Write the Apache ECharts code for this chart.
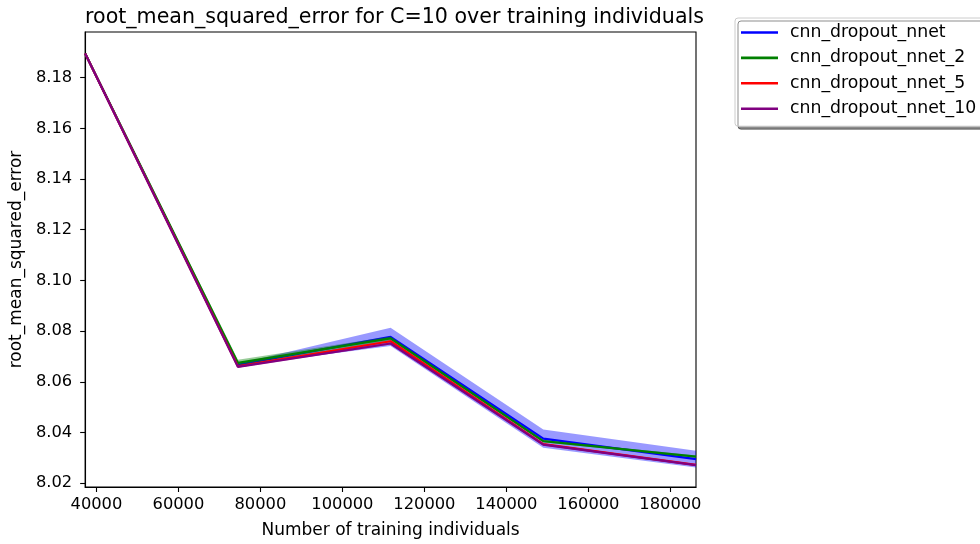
<!DOCTYPE html>
<html>
<head>
<meta charset="utf-8">
<script src="https://cdn.jsdelivr.net/npm/echarts@6/dist/echarts.min.js"></script>
<style>html,body{margin:0;padding:0;background:#fff}#c{width:980px;height:544px}</style>
</head>
<body>
<div id="c"></div>
<script>
const xValues = [37250, 74500, 111750, 149000, 186250];
const seriesNames = ['cnn_dropout_nnet', 'cnn_dropout_nnet_2', 'cnn_dropout_nnet_5', 'cnn_dropout_nnet_10'];
const blueMean   = [8.1895, 8.0667, 8.0777, 8.0376, 8.0295];
const greenMean  = [8.1895, 8.0675, 8.0771, 8.0366, 8.0305];
const redMean    = [8.1895, 8.0661, 8.0760, 8.0354, 8.0272];
const purpleMean = [8.1895, 8.0659, 8.0751, 8.0352, 8.0271];
const blueSpread   = [0.0002, 0.0004, 0.0036, 0.0036, 0.0033];
const greenSpread  = [0.0002, 0.0012, 0.0008, 0.0004, 0.0004];
const redSpread    = [0.0002, 0.0004, 0.0004, 0.0004, 0.0003];
const purpleSpread = [0.0002, 0.0004, 0.0004, 0.0004, 0.0003];
const yTicks = [8.02, 8.04, 8.06, 8.08, 8.10, 8.12, 8.14, 8.16, 8.18];
const xTicks = [40000, 60000, 80000, 100000, 120000, 140000, 160000, 180000];

const means = [blueMean, greenMean, redMean, purpleMean];
const spreads = [blueSpread, greenSpread, redSpread, purpleSpread];
const colors = ['#0000ff', '#008000', '#ff0000', '#800080'];
const bandColors = ['rgba(0,0,255,0.4)', 'rgba(0,128,0,0.4)', 'rgba(255,0,0,0.4)', 'rgba(128,0,128,0.4)'];
const FONT = 'DejaVu Sans';

const series = [];
means.forEach((m, i) => {
  const s = spreads[i];
  const upper = xValues.map((x, k) => [x, m[k] + s[k]]);
  const lower = xValues.map((x, k) => [x, m[k] - s[k]]);
  series.push({
    type: 'custom', name: 'band_' + i, silent: true, z: 1 + i * 2,
    data: [[xValues[0], m[0]]],
    clip: true,
    renderItem: function (params, api) {
      const pts = upper.map(p => api.coord(p)).concat(lower.slice().reverse().map(p => api.coord(p)));
      return {
        type: 'polygon',
        shape: { points: pts },
        style: { fill: bandColors[i], stroke: null }
      };
    }
  });
});
means.forEach((m, i) => {
  series.push({
    type: 'line', name: seriesNames[i],
    data: xValues.map((x, k) => [x, m[k]]),
    symbol: 'none', color: colors[i],
    lineStyle: { color: colors[i], width: 2.2 }, z: 2 + i * 2
  });
});

const chart = echarts.init(document.getElementById('c'), null, { renderer: 'canvas' });
chart.setOption({
  animation: false,
  backgroundColor: '#fff',
  title: {
    text: 'root_mean_squared_error for C=10 over training individuals',
    left: 389.5, top: 2, textAlign: 'center',
    textStyle: { fontFamily: FONT, fontSize: 20.6, fontWeight: 'normal', color: '#000' }
  },
  grid: { left: 83, right: 284, top: 32, bottom: 55, show: true, borderColor: '#000', borderWidth: 1.1, backgroundColor: 'transparent', containLabel: false },
  legend: {
    data: seriesNames.map((n, i) => ({ name: n, icon: 'rect', itemStyle: { color: colors[i] } })),
    orient: 'vertical', left: 735, top: 18,
    itemWidth: 37, itemHeight: 2.6, itemGap: 8.4,
    padding: [6, 8, 9, 6],
    backgroundColor: '#fff', borderColor: '#cccccc', borderWidth: 1, borderRadius: 3,
    shadowColor: 'rgba(0,0,0,0.45)', shadowOffsetX: 3, shadowOffsetY: 3, shadowBlur: 0,
    textStyle: { fontFamily: FONT, fontSize: 17.3, color: '#000', padding: [0, 0, 0, 7] }
  },
  xAxis: {
    type: 'value', min: 37250, max: 186250,
    name: 'Number of training individuals', nameLocation: 'middle', nameGap: 35,
    nameTextStyle: { fontFamily: FONT, fontSize: 17, color: '#000' },
    splitLine: { show: false },
    axisLine: { show: true, onZero: false, lineStyle: { color: '#000', width: 1.1 } },
    axisTick: { show: true, inside: false, length: 5, lineStyle: { color: '#000', width: 1.1 }, customValues: xTicks },
    axisLabel: { fontFamily: FONT, fontSize: 16.3, color: '#000', margin: 10, customValues: xTicks, formatter: v => String(Math.round(v)) }
  },
  yAxis: {
    type: 'value', min: 8.0185, max: 8.198,
    name: 'root_mean_squared_error', nameLocation: 'middle', nameGap: 54,
    nameTextStyle: { fontFamily: FONT, fontSize: 17, color: '#000' },
    splitLine: { show: false },
    axisLine: { show: true, onZero: false, lineStyle: { color: '#000', width: 1.1 } },
    axisTick: { show: true, inside: false, length: 5, lineStyle: { color: '#000', width: 1.1 }, customValues: yTicks },
    axisLabel: { fontFamily: FONT, fontSize: 16.3, color: '#000', margin: 13, customValues: yTicks, formatter: v => v.toFixed(2) }
  },
  series: series
});
</script>
</body>
</html>
